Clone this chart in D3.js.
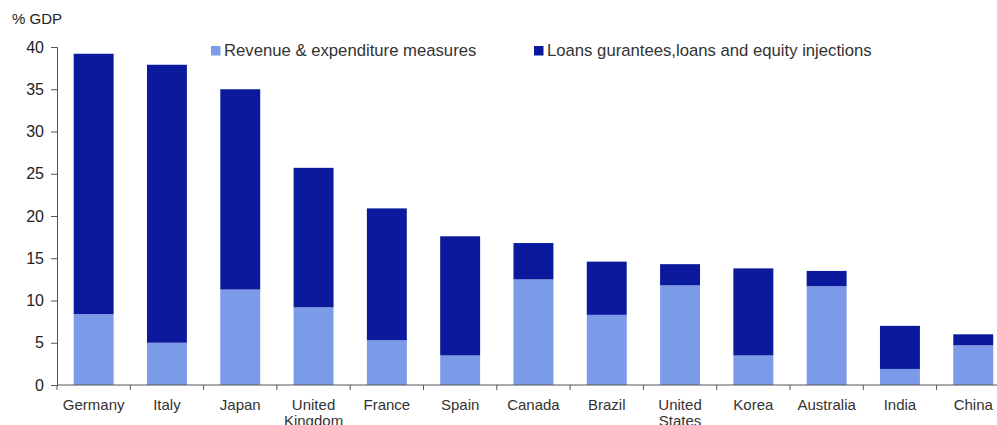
<!DOCTYPE html>
<html>
<head>
<meta charset="utf-8">
<script src="https://cdn.jsdelivr.net/npm/d3@7"></script>
<style>
  html, body { margin: 0; padding: 0; background: #fff; }
  svg { display: block; font-family: "Liberation Sans", Arial, Helvetica, sans-serif; }
</style>
</head>
<body>
<svg id="chart" width="997" height="425"></svg>
<script>
// Fiscal support packages, % of GDP
const countries = ["Germany", "Italy", "Japan", "United Kingdom", "France", "Spain",
  "Canada", "Brazil", "United States", "Korea", "Australia", "India", "China"];
const revenueExpenditure = [8.4, 5.0, 11.3, 9.2, 5.3, 3.5, 12.5, 8.3, 11.8, 3.5, 11.7, 1.9, 4.7];
const loansEquity = [30.8, 32.9, 23.7, 16.5, 15.6, 14.1, 4.3, 6.3, 2.5, 10.3, 1.8, 5.1, 1.3];
const yTicks = [0, 5, 10, 15, 20, 25, 30, 35, 40];
const seriesNames = ["Revenue & expenditure measures", "Loans gurantees,loans and equity injections"];
const seriesColors = ["#7b9be8", "#0b1a9c"];

const svg = d3.select("#chart");
const margin = { left: 57, top: 47 };
const plotBottom = 385;

const x = d3.scaleBand()
  .domain(countries)
  .range([margin.left, margin.left + 73.3 * countries.length])
  .paddingInner(0.455)
  .paddingOuter(0.2275);

const y = d3.scaleLinear().domain([0, 40]).range([plotBottom, margin.top]);

const rows = countries.map((c, i) => ({ country: c, rev: revenueExpenditure[i], loans: loansEquity[i] }));
const stacked = d3.stack().keys(["rev", "loans"])(rows);

svg.append("g")
  .selectAll("g")
  .data(stacked)
  .join("g")
  .attr("fill", (d, i) => seriesColors[i])
  .selectAll("rect")
  .data(d => d)
  .join("rect")
  .attr("x", d => x(d.data.country))
  .attr("width", x.bandwidth())
  .attr("y", d => y(d[1]))
  .attr("height", d => y(d[0]) - y(d[1]));

// Y axis
const yAxis = svg.append("g")
  .attr("transform", `translate(${margin.left},0)`)
  .call(d3.axisLeft(y).tickValues(yTicks).tickSize(6).tickPadding(7));
yAxis.selectAll("text").attr("font-size", 16).attr("fill", "#222").attr("font-family", "Liberation Sans, Arial, sans-serif");
yAxis.selectAll("line, path").attr("stroke", "#555");

// X axis: ticks at band boundaries
const step = x.step();
const xStart = margin.left;
const boundaries = d3.range(countries.length + 1).map(i => xStart + i * step);
svg.append("line")
  .attr("x1", xStart).attr("x2", xStart + step * countries.length)
  .attr("y1", plotBottom).attr("y2", plotBottom)
  .attr("stroke", "#555");
svg.append("g").selectAll("line")
  .data(boundaries)
  .join("line")
  .attr("x1", d => d).attr("x2", d => d)
  .attr("y1", plotBottom).attr("y2", plotBottom + 5)
  .attr("stroke", "#555");

// Category labels (two-word names wrap onto a second line)
const labels = svg.append("g")
  .attr("font-size", 15)
  .attr("fill", "#333")
  .attr("text-anchor", "middle");
countries.forEach(c => {
  const words = c.split(" ");
  const t = labels.append("text")
    .attr("x", x(c) + x.bandwidth() / 2)
    .attr("y", 410);
  words.forEach((w, j) => {
    t.append("tspan")
      .attr("x", x(c) + x.bandwidth() / 2)
      .attr("dy", j === 0 ? 0 : 16)
      .text(w);
  });
});

// Unit label
svg.append("text")
  .attr("x", 12).attr("y", 24)
  .attr("font-size", 15)
  .attr("fill", "#222")
  .text("% GDP");

// Legend
const legendX = [211, 534];
seriesNames.forEach((name, i) => {
  const g = svg.append("g").attr("transform", `translate(${legendX[i]},46)`);
  g.append("rect").attr("width", 9.5).attr("height", 9.5).attr("fill", seriesColors[i]);
  g.append("text").attr("x", 13).attr("y", 10)
    .attr("font-size", 16.7).attr("fill", "#333")
    .text(name);
});
</script>
</body>
</html>
